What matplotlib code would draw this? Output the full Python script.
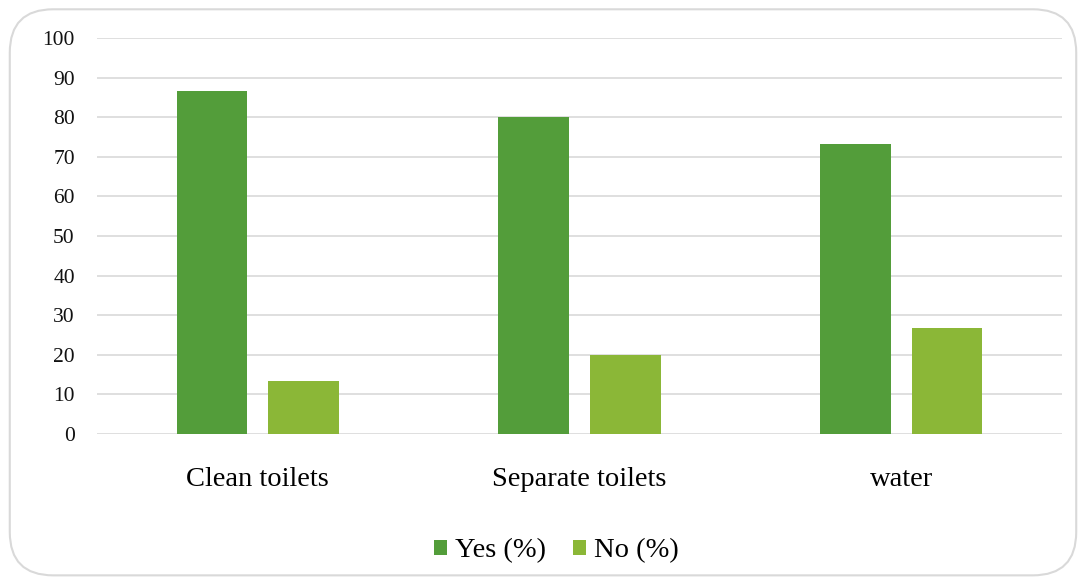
import numpy as np
import matplotlib.pyplot as plt
from matplotlib.patches import FancyBboxPatch

categories = ["Clean toilets", "Separate toilets", "water"]
yes_pct = [86.7, 80.0, 73.3]
no_pct = [13.3, 20.0, 26.7]

yes_color = "#539D3A"
no_color = "#8BB737"

plt.rcParams["font.family"] = ["Liberation Serif", "DejaVu Serif"]

fig = plt.figure(figsize=(10.86, 5.80), dpi=100)
ax = fig.add_axes([0.0893, 0.2517, 0.8887, 0.6828])

# rounded outer frame
frame = FancyBboxPatch((0.009, 0.008), 0.982, 0.976,
                       boxstyle="round,pad=0,rounding_size=0.04",
                       transform=fig.transFigure, facecolor="none",
                       edgecolor="#d9d9d9", linewidth=1.5, mutation_aspect=1.87)
fig.patches.append(frame)

x = np.arange(len(categories))
w = 0.22
off = 0.1425
ax.bar(x - off, yes_pct, w, color=yes_color, label="Yes (%)", zorder=3)
ax.bar(x + off, no_pct, w, color=no_color, label="No (%)", zorder=3)

ax.set_xlim(-0.5, len(categories) - 0.5)
ax.set_ylim(0, 100)
ax.set_yticks(range(0, 101, 10))
ax.yaxis.grid(True, color="#d9d9d9", linewidth=1.2, zorder=0)
ax.set_axisbelow(True)
for s in ax.spines.values():
    s.set_visible(False)
ax.tick_params(axis="both", length=0)
ax.tick_params(axis="y", labelsize=15.5, pad=16, labelcolor="#111111")
ax.set_xticks(x)
ax.set_xticklabels(categories, fontsize=20.5)
ax.tick_params(axis="x", pad=24)

fig.legend(loc="center", bbox_to_anchor=(0.5125, 0.05), ncol=2, frameon=False,
           fontsize=20.5, handlelength=0.45, handleheight=0.45, handletextpad=0.28,
           columnspacing=0.95)

fig.savefig("out.png", dpi=100)
